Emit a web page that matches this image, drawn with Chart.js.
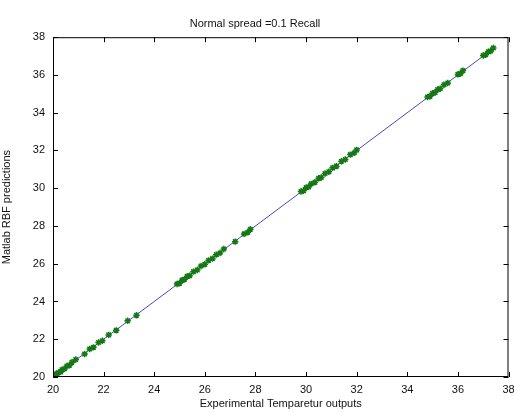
<!DOCTYPE html>
<html>
<head>
<meta charset="utf-8">
<script src="https://cdn.jsdelivr.net/npm/chart.js@4"></script>
<style>
    html, body { margin: 0; padding: 0; background: #fff; }
    #wrap { width: 514px; height: 413px; }
</style>
</head>
<body>
<div id="wrap"><canvas id="rbfChart"></canvas></div>
<script>
// experimental temperature outputs (x) and RBF predictions (y)
const experimental = [
    20.0, 20.05, 20.1, 20.15, 20.2, 20.3, 20.35, 20.45, 20.55, 20.65, 20.75,
    20.9, 21.25, 21.45, 21.6, 21.8, 21.95, 22.2, 22.5, 22.95, 23.3,
    24.9, 25.0, 25.1, 25.2, 25.3, 25.4, 25.55, 25.7, 25.85, 26.0, 26.15, 26.3, 26.45, 26.6, 26.75,
    27.2, 27.55, 27.7, 27.8,
    29.8, 29.9, 30.0, 30.1, 30.2, 30.35, 30.5, 30.6, 30.75, 30.9, 31.05, 31.2, 31.4, 31.55, 31.75, 31.9, 32.0,
    34.8, 34.9, 35.0, 35.1, 35.2, 35.3, 35.45, 35.6,
    36.0, 36.1, 36.2,
    37.0, 37.1, 37.2, 37.3, 37.4
];
const predictions = [
    20.02, 20.08, 20.07, 20.18, 20.22, 20.27, 20.38, 20.43, 20.58, 20.62, 20.78,
    20.93, 21.22, 21.48, 21.57, 21.83, 21.92, 22.23, 22.47, 22.98, 23.27,
    24.93, 24.97, 25.13, 25.18, 25.33, 25.37, 25.58, 25.67, 25.88, 25.97, 26.18, 26.27, 26.48, 26.57, 26.78,
    27.17, 27.58, 27.67, 27.83,
    29.83, 29.87, 30.03, 30.07, 30.23, 30.32, 30.53, 30.57, 30.78, 30.87, 31.08, 31.17, 31.43, 31.52, 31.78, 31.87, 32.03,
    34.83, 34.87, 35.03, 35.07, 35.23, 35.27, 35.48, 35.57,
    36.03, 36.07, 36.23,
    37.03, 37.07, 37.23, 37.27, 37.43
];
// ideal fit line
const fitX = [20, 37.45];
const fitY = [20, 37.45];

const axisMin = 20;
const axisMax = 38;
const tickStep = 2;

const labelFont = { family: "'Liberation Sans', Arial, sans-serif", size: 11, weight: "normal" };

// MATLAB style box with inward ticks on all four sides
const boxPlugin = {
    id: "matlabBox",
    afterDraw(chart) {
        const { ctx, chartArea: a, scales } = chart;
        ctx.save();
        ctx.strokeStyle = "#000";
        ctx.lineWidth = 1;
        ctx.strokeRect(a.left + 0.5, a.top + 0.5, a.right - a.left - 1, a.bottom - a.top - 1);
        const len = 5;
        ctx.beginPath();
        scales.x.ticks.forEach(t => {
            const px = Math.round(scales.x.getPixelForValue(t.value)) + 0.5;
            ctx.moveTo(px, a.bottom); ctx.lineTo(px, a.bottom - len);
            ctx.moveTo(px, a.top); ctx.lineTo(px, a.top + len);
        });
        scales.y.ticks.forEach(t => {
            const py = Math.round(scales.y.getPixelForValue(t.value)) + 0.5;
            ctx.moveTo(a.left, py); ctx.lineTo(a.left + len, py);
            ctx.moveTo(a.right, py); ctx.lineTo(a.right - len, py);
        });
        ctx.stroke();
        ctx.restore();
    }
};

new Chart(document.getElementById("rbfChart"), {
    type: "scatter",
    data: {
        datasets: [
            {
                label: "RBF",
                data: experimental.map((x, i) => ({ x: x, y: predictions[i] })),
                pointStyle: "star",
                pointRadius: 3.2,
                pointBorderWidth: 1.5,
                pointBorderColor: "#147814",
                pointBackgroundColor: "#147814",
                order: 1
            },
            {
                label: "fit",
                type: "line",
                data: fitX.map((x, i) => ({ x: x, y: fitY[i] })),
                borderColor: "#4848c0",
                borderWidth: 1,
                pointRadius: 0,
                fill: false,
                order: 2
            }
        ]
    },
    options: {
        responsive: true,
        maintainAspectRatio: false,
        animation: false,
        layout: { padding: { right: 4, top: 0, left: 0, bottom: 0 } },
        plugins: {
            legend: { display: false },
            tooltip: { enabled: false },
            title: {
                display: true,
                text: "Normal spread =0.1 Recall",
                color: "#111",
                font: labelFont,
                padding: { top: 17, bottom: 7 }
            }
        },
        scales: {
            x: {
                type: "linear",
                min: axisMin,
                max: axisMax,
                ticks: { stepSize: tickStep, color: "#111", font: labelFont, padding: 6, maxRotation: 0 },
                grid: { display: false, drawTicks: false },
                border: { display: false },
                title: {
                    display: true,
                    text: "Experimental Temparetur outputs",
                    color: "#111",
                    font: labelFont,
                    padding: { top: 0, bottom: 2 }
                },
                afterFit(scale) {
                    scale.height = 36;
                    scale.paddingRight = 0;
                }
            },
            y: {
                type: "linear",
                min: axisMin,
                max: axisMax,
                ticks: { stepSize: tickStep, color: "#111", font: labelFont, padding: 8 },
                grid: { display: false, drawTicks: false },
                border: { display: false },
                title: {
                    display: true,
                    text: "Matlab RBF predictions",
                    color: "#111",
                    font: labelFont,
                    padding: { top: 0, bottom: 10 }
                },
                afterFit(scale) { scale.width = 53; }
            }
        }
    },
    plugins: [boxPlugin]
});
</script>
</body>
</html>
